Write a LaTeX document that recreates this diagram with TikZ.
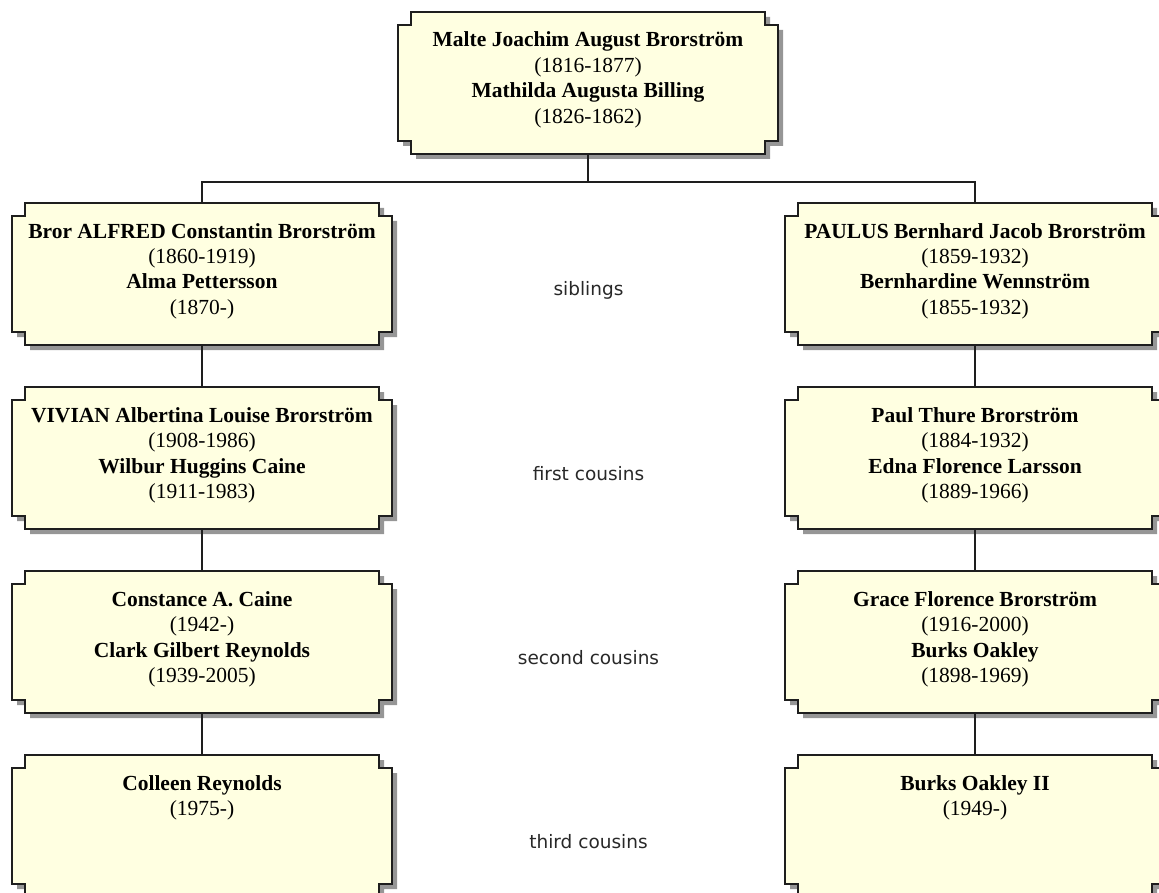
\documentclass[tikz,border=0pt]{standalone}
\usepackage{fontspec}
\setmainfont{Liberation Serif}
\newfontfamily\labelfont{DejaVu Sans}
\usetikzlibrary{calc,backgrounds}
\definecolor{boxfill}{RGB}{255,255,225}
\definecolor{boxline}{RGB}{30,30,30}
\definecolor{shadowc}{RGB}{150,150,150}
\definecolor{textc}{RGB}{40,40,40}
\newcommand\ptext[1]{\parbox[c][142pt][t]{380pt}{\centering\rule{0pt}{35pt}#1}}
\newcommand\notchpath[3]{($(#1.north west)+(13+#2,#3)$) -- ($(#1.north east)+(-13+#2,#3)$) -- ++(0,-13) -- ++(13,0) -- ($(#1.south east)+(#2,13+#3)$) -- ++(-13,0) -- ++(0,-13) -- ($(#1.south west)+(13+#2,#3)$) -- ++(0,13) -- ++(-13,0) -- ($(#1.north west)+(#2,-13+#3)$) -- ++(13,0) -- cycle}
\begin{document}
\begin{tikzpicture}[x=1pt,y=1pt,
  person/.style={inner sep=0pt, outer sep=0pt, anchor=north, font=\fontsize{21.5}{25.5}\selectfont},
  lbl/.style={inner sep=0pt, text=textc, font=\labelfont\fontsize{18.5}{22}\selectfont},
  conn/.style={draw=boxline, line width=1.6pt}]
\useasboundingbox (0,0) rectangle (1159,-893);
\node[person] (top) at (588,-12) {\ptext{\textbf{Malte Joachim August Brorström}\\(1816-1877)\\\textbf{Mathilda Augusta Billing}\\(1826-1862)}};
\node[person] (L1) at (202,-203) {\ptext{\textbf{Bror ALFRED Constantin Brorström}\\(1860-1919)\\\textbf{Alma Pettersson}\\(1870-)}};
\node[person] (L2) at (202,-387) {\ptext{\textbf{VIVIAN Albertina Louise Brorström}\\(1908-1986)\\\textbf{Wilbur Huggins Caine}\\(1911-1983)}};
\node[person] (L3) at (202,-571) {\ptext{\textbf{Constance A. Caine}\\(1942-)\\\textbf{Clark Gilbert Reynolds}\\(1939-2005)}};
\node[person] (L4) at (202,-755) {\ptext{\textbf{Colleen Reynolds}\\(1975-)}};
\node[person] (R1) at (975,-203) {\ptext{\textbf{PAULUS Bernhard Jacob Brorström}\\(1859-1932)\\\textbf{Bernhardine Wennström}\\(1855-1932)}};
\node[person] (R2) at (975,-387) {\ptext{\textbf{Paul Thure Brorström}\\(1884-1932)\\\textbf{Edna Florence Larsson}\\(1889-1966)}};
\node[person] (R3) at (975,-571) {\ptext{\textbf{Grace Florence Brorström}\\(1916-2000)\\\textbf{Burks Oakley}\\(1898-1969)}};
\node[person] (R4) at (975,-755) {\ptext{\textbf{Burks Oakley II}\\(1949-)}};
\node[lbl] (sib) at ($(L1.center)!0.5!(R1.center)+(0,-16)$) {siblings};
\node[lbl] (fc) at ($(L2.center)!0.5!(R2.center)+(0,-16)$) {first cousins};
\node[lbl] (sc) at ($(L3.center)!0.5!(R3.center)+(0,-16)$) {second cousins};
\node[lbl] (tc) at ($(L4.center)!0.5!(R4.center)+(0,-16)$) {third cousins};
\begin{pgfonlayer}{background}
\foreach \n in {top,L1,L2,L3,L4,R1,R2,R3,R4}{
  \fill[shadowc] \notchpath{\n}{5}{-5};
  \filldraw[fill=boxfill, draw=boxline, line width=1.6pt] \notchpath{\n}{0}{0};
}
\end{pgfonlayer}
\coordinate (bar) at ($(top.south)+(0,-28)$);
\draw[conn] (top.south) -- (bar) -| (L1.north);
\draw[conn] (bar) -| (R1.north);
\draw[conn] (L1.south) -- (L2.north);
\draw[conn] (L2.south) -- (L3.north);
\draw[conn] (L3.south) -- (L4.north);
\draw[conn] (R1.south) -- (R2.north);
\draw[conn] (R2.south) -- (R3.north);
\draw[conn] (R3.south) -- (R4.north);
\end{tikzpicture}
\end{document}
